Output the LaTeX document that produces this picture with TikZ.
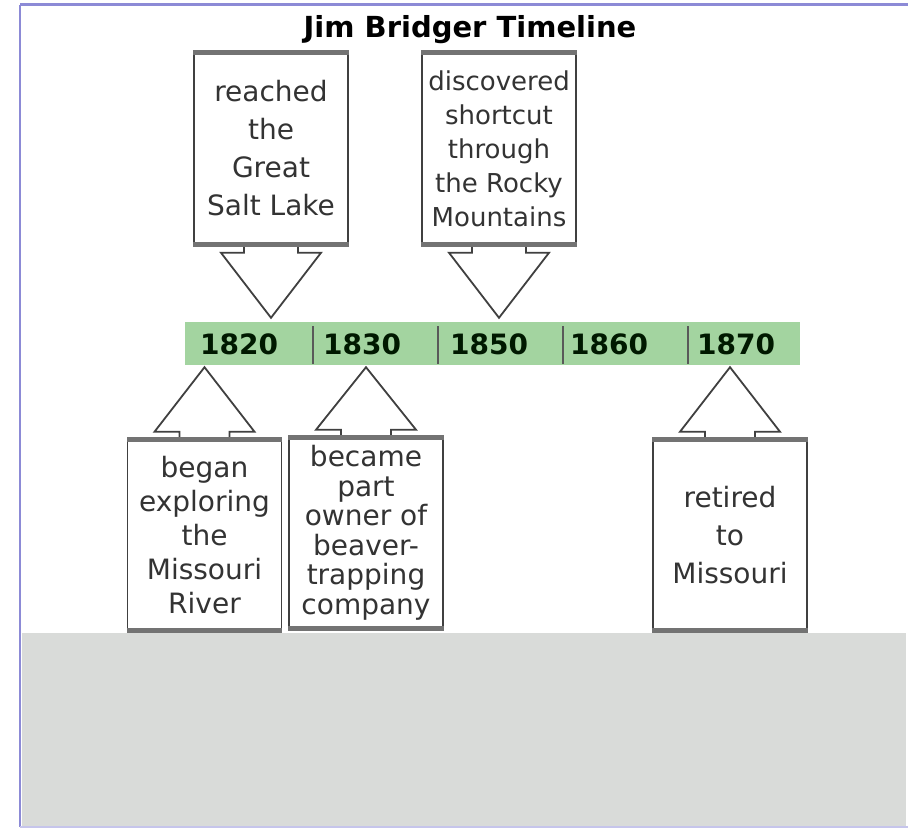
\documentclass[tikz,border=0pt]{standalone}
\usepackage{fontspec}
\setmainfont{DejaVu Sans}
\usetikzlibrary{calc}
\definecolor{barfill}{RGB}{163,212,160}
\definecolor{lowgray}{RGB}{217,219,217}
\definecolor{framepurple}{RGB}{140,138,214}
\tikzset{event/.style={draw=black!75,line width=1.5pt,fill=white,minimum width=154pt,minimum height=195pt,inner sep=0pt,align=center,text=black!80,font=\fontsize{28}{38}\selectfont},
         year/.style={text=black!90!green,font=\fontsize{28}{30}\selectfont\bfseries},
         pointer/.style={draw=black!75,line width=1.8pt,fill=white},
         divider/.style={draw=black!65,line width=1.5pt},
         rim/.style={fill=black!55}}

\begin{document}
\begin{tikzpicture}[x=1pt,y=-1pt]
        \useasboundingbox (0,0) rectangle (908,829);
        \fill[lowgray](22,633)rectangle(906,826);
        \draw[framepurple,line width=3pt](20,5)--(908,5);
        \draw[framepurple,line width=2pt](20,5)--(20,827);
        \draw[framepurple!50,line width=2pt](20,827)--(908,827);
        \node[font=\fontsize{29}{32}\selectfont\bfseries](title)at(470,30){Jim Bridger Timeline};
        % timeline bar
        \node[fill=barfill,minimum width=615pt,minimum height=43pt,inner sep=0pt](bar)at(492.5,343.5){};
        \foreach \x in {313,438,563,688}
            \draw[divider](\x,326)--(\x,364);
        \node[year](y1820)at(239,344){1820};
        \node[year](y1830)at(362,344){1830};
        \node[year](y1850)at(489,344){1850};
        \node[year](y1860)at(609,344){1860};
        \node[year](y1870)at(736,344){1870};
        % events above
        \node[event](t1)at(271,148.5){reached\\the\\Great\\Salt Lake};
        \node[event,font=\fontsize{26}{34}\selectfont](t2)at(499,148.5){discovered\\shortcut\\through\\the Rocky\\Mountains};
        % events below
        \node[event,font=\fontsize{28}{34}\selectfont](b1)at(204.5,535){began\\exploring\\the\\Missouri\\River};
        \node[event,font=\fontsize{28}{29.5}\selectfont](b2)at(366,533){became\\part\\owner of\\beaver-\\trapping\\company};
        \node[event](b3)at(730,535){retired\\to\\Missouri};
        \draw[pointer]($(t1.south)+(-27,0)$)--++(0,6)--++(-23,0)--($(t1.south|-bar.north)+(0,-4)$)--($(t1.south)+(50,6)$)--++(-23,0)--++(0,-6);
        \draw[pointer]($(t2.south)+(-27,0)$)--++(0,6)--++(-23,0)--($(t2.south|-bar.north)+(0,-4)$)--($(t2.south)+(50,6)$)--++(-23,0)--++(0,-6);
        \draw[pointer]($(b1.north)+(-25,3)$)--++(0,-8)--++(-25,0)--($(b1.north|-bar.south)+(0,2)$)--($(b1.north)+(50,-5)$)--++(-25,0)--++(0,8);
        \draw[pointer]($(b2.north)+(-25,3)$)--++(0,-8)--++(-25,0)--($(b2.north|-bar.south)+(0,2)$)--($(b2.north)+(50,-5)$)--++(-25,0)--++(0,8);
        \draw[pointer]($(b3.north)+(-25,3)$)--++(0,-8)--++(-25,0)--($(b3.north|-bar.south)+(0,2)$)--($(b3.north)+(50,-5)$)--++(-25,0)--++(0,8);
        \foreach \b in {t1,t2,b1,b2,b3}{
            \fill[rim](\b.north west)rectangle($(\b.north east)+(0,5)$);
            \fill[rim]($(\b.south west)+(0,-5)$)rectangle(\b.south east);
        }
    \end{tikzpicture}
\end{document}
